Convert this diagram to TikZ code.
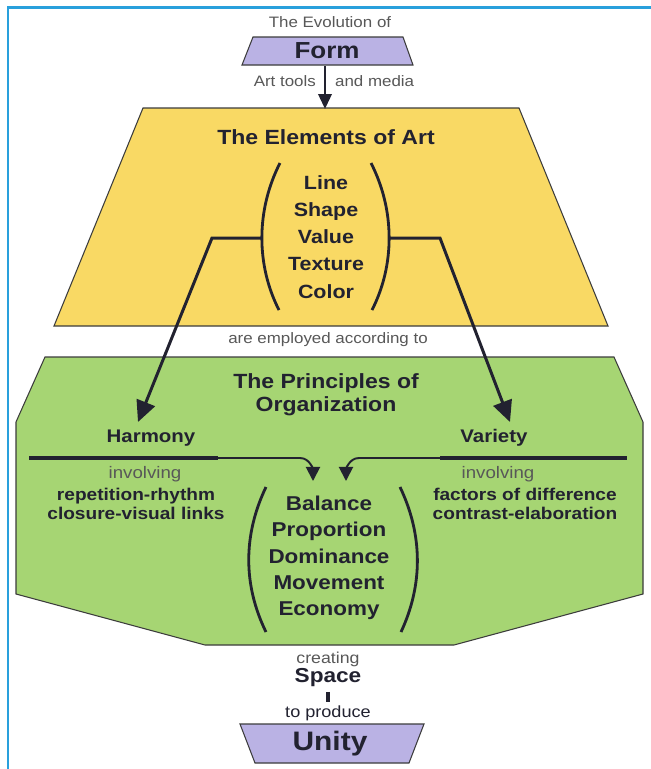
\documentclass[tikz,border=0pt]{standalone}
\usepackage{fontspec}
\setmainfont[FakeStretch=1.12]{Liberation Sans}
\usepackage{xcolor}
\usetikzlibrary{arrows.meta}

\definecolor{framblue}{RGB}{41,160,220}
\definecolor{formpurple}{RGB}{186,178,228}
\definecolor{artyellow}{RGB}{249,217,100}
\definecolor{orggreen}{RGB}{166,213,115}
\definecolor{edgegray}{RGB}{60,60,60}
\definecolor{textdark}{RGB}{34,34,48}
\definecolor{textgray}{RGB}{88,88,88}

\tikzset{
  outline/.style={draw=edgegray,line width=0.6pt},
  small/.style={text=textgray,inner sep=1pt,font=\fontsize{8.6}{10}\selectfont},
  head/.style={text=textdark,inner sep=1pt,align=center,font=\bfseries\fontsize{11.7}{13}\selectfont},
  listtxt/.style={text=textdark,inner sep=1pt,align=center,font=\bfseries\fontsize{10.9}{15.45}\selectfont},
  bigword/.style={text=textdark,inner sep=1pt,font=\bfseries\fontsize{13.2}{15}\selectfont},
  paren/.style={draw=textdark,line width=1.6pt},
  bigarrow/.style={draw=textdark,line width=1.7pt,-{Triangle[length=12pt,width=11pt]}},
  midarrow/.style={draw=textdark,line width=1.6pt,-{Triangle[length=8.5pt,width=7.5pt]}},
  thinarrow/.style={draw=textdark,line width=1.1pt,-{Triangle[length=8pt,width=8pt]}},
  rule/.style={draw=textdark,line width=2.5pt}
}

\begin{document}
\begin{tikzpicture}[x=0.02cm,y=-0.02cm]
\useasboundingbox (0,0) rectangle (651,769);
\fill[white] (0,0) rectangle (651,769);
\draw[framblue,line width=1.7pt] (8,769) -- (8,7) -- (651,7);

% Form
\node[small] (evol) at (330,22) {The Evolution of};
\draw[outline,fill=formpurple] (253,37) -- (403,37) -- (413,65) -- (242,65) -- cycle;
\node[bigword] (form) at (327,51) {Form};
\coordinate (formbase) at (325,66);
\node[small,anchor=east] (tools) at (318,81) {Art tools};
\node[small,anchor=west] (media) at (333,81) {and media};

% elements of art
\draw[outline,fill=artyellow] (143,108) -- (519,108) -- (608,326) -- (54,326) -- cycle;
\coordinate (eltop) at (325,109);
\draw[midarrow] (formbase) -- (eltop);
\node[head] (elemtitle) at (326,137) {The Elements of Art};
\node[listtxt] (elems) at (326,237) {Line\\Shape\\Value\\Texture\\Color};
\draw[paren] (280,163) .. controls (256,210) and (256,265) .. (279,310);
\draw[paren] (371,163) .. controls (395,210) and (395,265) .. (372,310);
\coordinate (lpar) at (262,238);
\coordinate (rpar) at (389,238);
\coordinate (lbend) at (212,238);
\coordinate (rbend) at (440,238);

\node[small] (employ) at (328,340) {are employed according to};

% principles of organization
\draw[outline,fill=orggreen] (45,357) -- (614,357) -- (643,422) -- (643,594)
  -- (454,645) -- (205,645) -- (16,594) -- (16,422) -- cycle;
\node[head] (princ) at (326,395) {The Principles of\\Organization};

\node[head,font=\bfseries\fontsize{10.4}{12}\selectfont] (harmony) at (151,438) {Harmony};
\node[head,font=\bfseries\fontsize{10.4}{12}\selectfont] (variety) at (494,438) {Variety};
\coordinate (harmtip) at (138,422);
\coordinate (vartip) at (510,422);
\draw[bigarrow] (lpar) -- (lbend) -- (harmtip);
\draw[bigarrow] (rpar) -- (rbend) -- (vartip);

\coordinate (hend) at (218,458);
\coordinate (vend) at (440,458);
\coordinate (htip) at (313,481);
\coordinate (vtip) at (346,481);
\draw[rule] (29,458) -- (hend);
\draw[rule] (vend) -- (627,458);
\draw[thinarrow] (hend) -- (300,458) to[out=0,in=90] (htip);
\draw[thinarrow] (vend) -- (359,458) to[out=180,in=90] (vtip);

\node[small,font=\fontsize{9.5}{11}\selectfont] (hinv) at (145,474) {involving};
\node[small,font=\fontsize{9.5}{11}\selectfont] (vinv) at (498,474) {involving};
\node[listtxt,font=\bfseries\fontsize{9.7}{10.8}\selectfont] (hitems) at (136,504) {repetition-rhythm\\closure-visual links};
\node[listtxt,font=\bfseries\fontsize{9.7}{10.8}\selectfont] (vitems) at (525,504) {factors of difference\\contrast-elaboration};

\node[listtxt,font=\bfseries\fontsize{11.4}{15}\selectfont] (princs) at (329,558) {Balance\\Proportion\\Dominance\\Movement\\Economy};
\draw[paren] (266,487) .. controls (243,535) and (243,585) .. (266,632);
\draw[paren] (400,487) .. controls (423,535) and (423,585) .. (401,632);

% space and unity
\node[small,font=\fontsize{9}{10}\selectfont] (creating) at (328,659) {creating};
\node[bigword,font=\bfseries\fontsize{11.5}{13}\selectfont] (space) at (328,678) {Space};
\node[small,text=textdark,font=\fontsize{9.2}{10}\selectfont] (produce) at (328,713) {to produce};
\draw[textdark,line width=1.8pt,shorten <=1.5pt,shorten >=0.5pt] (space.south) -- (produce.north);
\draw[outline,fill=formpurple] (240,724) -- (424,724) -- (409,763) -- (255,763) -- cycle;
\node[bigword,font=\bfseries\fontsize{15.2}{17}\selectfont] (unity) at (330,744) {Unity};
\end{tikzpicture}
\end{document}
